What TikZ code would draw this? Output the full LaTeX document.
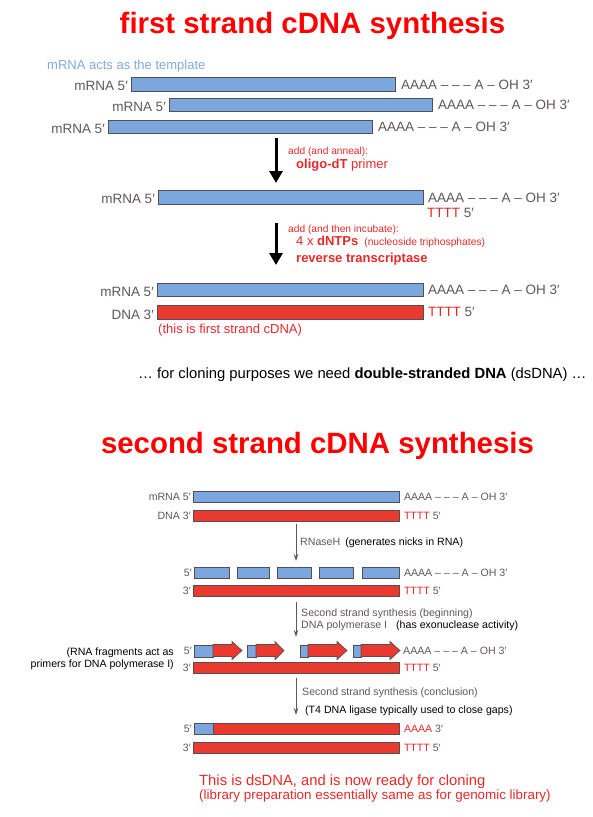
\documentclass[tikz,border=0pt]{standalone}
\usepackage{fontspec}
\setmainfont{Liberation Sans}
\usepackage{tikz}
\usetikzlibrary{positioning}
\usetikzlibrary{arrows.meta}

\definecolor{titlered}{RGB}{255,0,0}
\definecolor{notered}{RGB}{232,40,40}
\definecolor{rnablue}{RGB}{123,167,222}
\definecolor{dnared}{RGB}{234,58,48}
\definecolor{edgegray}{RGB}{85,78,82}
\definecolor{labgray}{RGB}{96,86,92}
\definecolor{tmplblue}{RGB}{128,170,222}

\tikzset{
  headline/.style={text=titlered, font=\fontsize{29.4}{32}\selectfont\bfseries, inner sep=0pt},
  rnabar/.style={draw=edgegray, fill=rnablue, line width=.8pt, inner sep=0pt, anchor=north west},
  dnabar/.style={draw=edgegray, fill=dnared, line width=.8pt, inner sep=0pt, anchor=north west},
  dnapoly/.style={draw=edgegray, fill=dnared, line width=.7pt, line join=miter},
  biglbl/.style={text=labgray, font=\fontsize{13.5}{15}\selectfont, inner sep=0pt},
  leftlbl/.style={biglbl, yshift=-2pt},
  smalllbl/.style={text=labgray, font=\fontsize{10.6}{12}\selectfont, inner sep=0pt},
  blacknote/.style={text=black, font=\fontsize{10.6}{12}\selectfont, inner sep=0pt},
  rednote/.style={text=notered, font=\fontsize{10.2}{12}\selectfont, inner sep=0pt},
  bigrednote/.style={text=notered, font=\fontsize{13}{15}\selectfont, inner sep=0pt},
  bigarrow/.style={-{Triangle[width=13pt,length=12pt]}, color=black, line width=3pt},
  thinarrow/.style={-{Stealth[width=4.5pt,length=7pt]}, color=labgray, line width=.9pt},
}

\begin{document}
\begin{tikzpicture}[x=1pt, y=-1pt]
\useasboundingbox (0,0) rectangle (593,817);

\node(t1)[headline, anchor=base] at (312.5,33) {first strand cDNA synthesis};
\node(tp)[anchor=base west, text=tmplblue, font=\fontsize{13}{15}\selectfont, inner sep=0pt] at (47,69) {mRNA acts as the template};

\node(b1)[rnabar, minimum width=264pt, minimum height=14pt] at (131,77) {};
\node(l1)[leftlbl, left=3pt of b1] {mRNA 5′};
\node(r1)[biglbl, right=5pt of b1] {AAAA – – – A – OH 3′};

\node(b2)[rnabar, minimum width=263pt, minimum height=13pt] at (169,98) {};
\node(l2)[leftlbl, left=3pt of b2] {mRNA 5′};
\node(r2)[biglbl, right=5pt of b2] {AAAA – – – A – OH 3′};

\node(b3)[rnabar, minimum width=264pt, minimum height=13pt] at (108,120) {};
\node(l3)[leftlbl, left=3pt of b3] {mRNA 5′};
\node(r3)[biglbl, right=5pt of b3] {AAAA – – – A – OH 3′};

\coordinate(s1) at (276,138);
\coordinate(e1) at (276,183);
\draw[bigarrow] (s1)--(e1);
\node(n1)[rednote, anchor=base west] at (288,154) {add (and anneal):};
\node(n2)[bigrednote, anchor=base west] at (296,168) {\textbf{oligo-dT} primer};

\node(b4)[rnabar, minimum width=265pt, minimum height=14pt] at (158,190) {};
\node(l4)[leftlbl, left=3pt of b4] {mRNA 5′};
\node(r4)[biglbl, right=4pt of b4] {AAAA – – – A – OH 3′};
\node(p4)[biglbl, anchor=base west] at (427,217) {\textcolor{notered}{TTTT} 5′};

\coordinate(s2) at (276,223);
\coordinate(e2) at (276,265);
\draw[bigarrow] (s2)--(e2);
\node(n3)[rednote, anchor=base west] at (288,232) {add (and then incubate):};
\node(n4)[bigrednote, anchor=base west] at (296,245) {4 x \textbf{dNTPs}\hspace{6pt}{\fontsize{10.3}{12}\selectfont(nucleoside triphosphates)}};
\node(n5)[bigrednote, anchor=base west] at (296,262) {\textbf{reverse transcriptase}};

\node(b5)[rnabar, minimum width=266pt, minimum height=13pt] at (157,283) {};
\node(l5)[leftlbl, left=3pt of b5] {mRNA 5′};
\node(r5)[biglbl, right=4pt of b5] {AAAA – – – A – OH 3′};
\node(b6)[dnabar, minimum width=266pt, minimum height=14pt] at (157,305) {};
\node(l6)[leftlbl, left=3pt of b6] {DNA 3′};
\node(r6)[biglbl, right=4pt of b6] {\textcolor{notered}{TTTT} 5′};
\node(fs)[bigrednote, anchor=base west] at (158,333) {(this is first strand cDNA)};

\node(cl)[anchor=base west, font=\fontsize{14.8}{16}\selectfont, inner sep=0pt] at (138,378) {… for cloning purposes we need \textbf{double-stranded DNA} (dsDNA) …};

\node(t2)[headline, anchor=base] at (317.5,453) {second strand cDNA synthesis};

\node(c1)[rnabar, minimum width=206pt, minimum height=11pt] at (193,491) {};
\node(m1)[smalllbl, left=2pt of c1] {mRNA 5′};
\node(q1)[smalllbl, right=4pt of c1] {AAAA – – – A – OH 3′};
\node(c2)[dnabar, minimum width=206pt, minimum height=11pt] at (193,510) {};
\node(m2)[smalllbl, left=2pt of c2] {DNA 3′};
\node(q2)[smalllbl, right=4pt of c2] {\textcolor{notered}{TTTT} 5′};

\coordinate(s3) at (296,524);
\coordinate(e3) at (296,561);
\draw[thinarrow] (s3)--(e3);
\node(h1)[smalllbl, anchor=base west] at (300,545) {RNaseH\hspace{5pt}\textcolor{black}{(generates nicks in RNA)}};

\node(f1)[rnabar, minimum width=35pt, minimum height=11pt] at (194,567) {};
\node(f2)[rnabar, minimum width=32pt, minimum height=11pt] at (237,567) {};
\node(f3)[rnabar, minimum width=34pt, minimum height=11pt] at (277,567) {};
\node(f4)[rnabar, minimum width=34pt, minimum height=11pt] at (319,567) {};
\node(f5)[rnabar, minimum width=37pt, minimum height=11pt] at (362,567) {};
\node(m3)[smalllbl, left=2pt of f1] {5′};
\node(q3)[smalllbl, right=4pt of f5] {AAAA – – – A – OH 3′};
\node(c3)[dnabar, minimum width=206pt, minimum height=11pt] at (193,585) {};
\node(m4)[smalllbl, left=2pt of c3] {3′};
\node(q4)[smalllbl, right=4pt of c3] {\textcolor{notered}{TTTT} 5′};

\coordinate(s4) at (296,602);
\coordinate(e4) at (296,637);
\draw[thinarrow] (s4)--(e4);
\node(h2)[smalllbl, anchor=base west] at (301,616) {Second strand synthesis (beginning)};
\node(h3)[smalllbl, anchor=base west] at (301,628) {DNA polymerase I\hspace{9pt}\textcolor{black}{(has exonuclease activity)}};

\node(g1)[rnabar, minimum width=19pt, minimum height=12pt] at (194,644.5) {};
\draw[dnapoly] (213,644.5) -- (232,644.5) -- (232,641.5) -- (242,650.5) -- (232,659.5) -- (232,656.5) -- (213,656.5) -- cycle;
\node(g2)[rnabar, minimum width=9pt, minimum height=12pt] at (247,644.5) {};
\draw[dnapoly] (256,644.5) -- (275,644.5) -- (275,641.5) -- (284,650.5) -- (275,659.5) -- (275,656.5) -- (256,656.5) -- cycle;
\node(g3)[rnabar, minimum width=8pt, minimum height=12pt] at (300,644.5) {};
\draw[dnapoly] (308,644.5) -- (337,644.5) -- (337,641.5) -- (347,650.5) -- (337,659.5) -- (337,656.5) -- (308,656.5) -- cycle;
\node(g4)[rnabar, minimum width=8pt, minimum height=12pt] at (353,644.5) {};
\draw[dnapoly] (361,644.5) -- (390,644.5) -- (390,641.5) -- (400,650.5) -- (390,659.5) -- (390,656.5) -- (361,656.5) -- cycle;
\node(m5)[smalllbl, left=2pt of g1] {5′};
\node(q5)[smalllbl, anchor=west] at (403,650.5) {AAAA – – – A – OH 3′};
\node(rf)[blacknote, align=right, anchor=east] at (174,659) {(RNA fragments act as\\primers for DNA polymerase I)};

\node(c4)[dnabar, minimum width=206pt, minimum height=11pt] at (193,662) {};
\node(m6)[smalllbl, left=2pt of c4] {3′};
\node(q6)[smalllbl, right=4pt of c4] {\textcolor{notered}{TTTT} 5′};

\coordinate(s5) at (296,678);
\coordinate(e5) at (296,715);
\draw[thinarrow] (s5)--(e5);
\node(h4)[smalllbl, anchor=base west] at (302,695) {Second strand synthesis (conclusion)};
\node(h5)[blacknote, anchor=base west] at (305,713) {(T4 DNA ligase typically used to close gaps)};

\node(k0)[rnabar, minimum width=19pt, minimum height=11pt] at (194,723) {};
\node(k1)[dnabar, minimum width=186pt, minimum height=11pt] at (213,723) {};
\node(m7)[smalllbl, left=2pt of k0] {5′};
\node(q7)[smalllbl, right=4pt of k1] {\textcolor{notered}{AAAA} 3′};
\node(c5)[dnabar, minimum width=206pt, minimum height=11pt] at (193,742) {};
\node(m8)[smalllbl, left=2pt of c5] {3′};
\node(q8)[smalllbl, right=4pt of c5] {\textcolor{notered}{TTTT} 5′};

\node(z1)[text=notered, font=\fontsize{14.8}{15}\selectfont, inner sep=0pt, anchor=base west] at (199,785) {This is dsDNA, and is now ready for cloning};
\node(z2)[text=notered, font=\fontsize{13.4}{15}\selectfont, inner sep=0pt, anchor=base west] at (199,799) {(library preparation essentially same as for genomic library)};
\end{tikzpicture}
\end{document}
